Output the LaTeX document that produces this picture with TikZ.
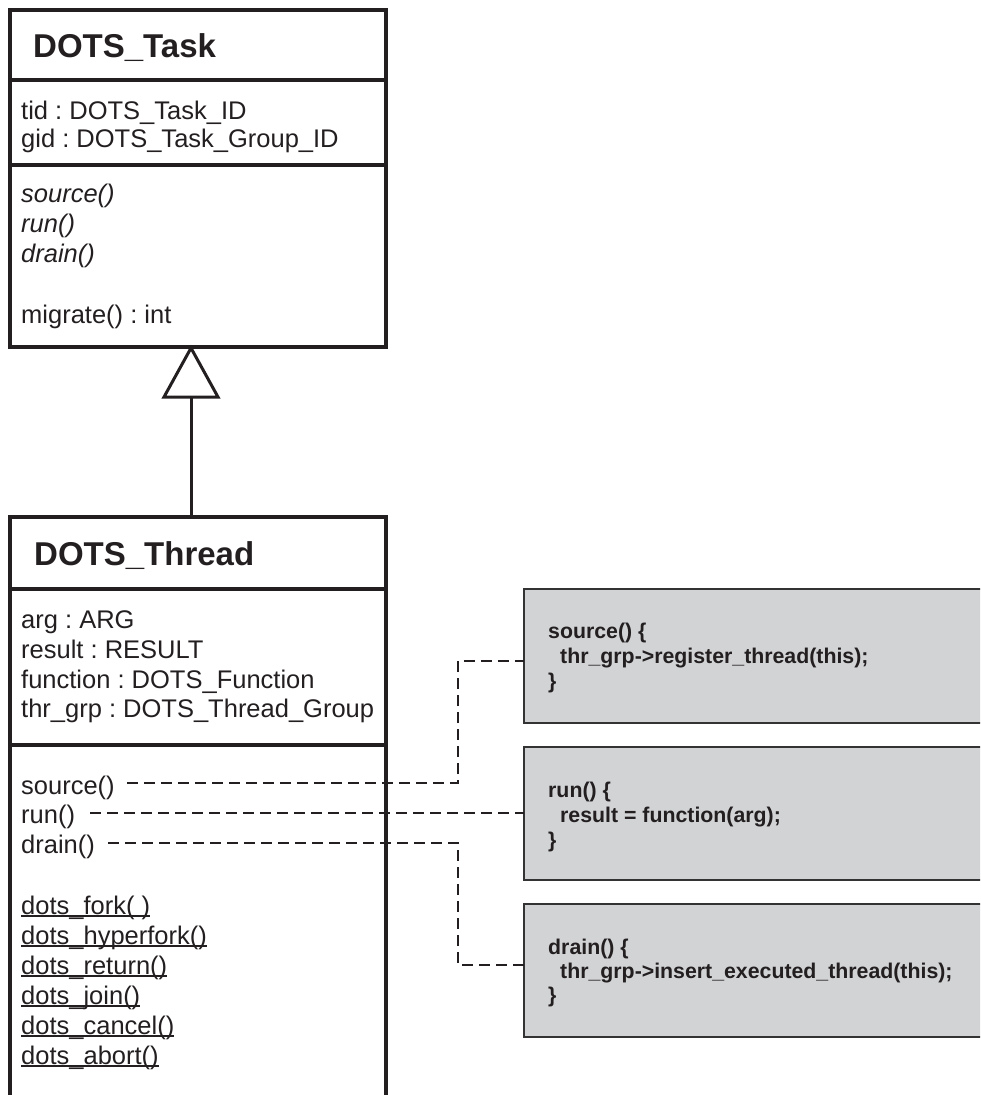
\documentclass[tikz,border=0pt]{standalone}
\usepackage{fontspec}
\setmainfont{Liberation Sans}
\usetikzlibrary{calc}
\definecolor{ink}{HTML}{231F20}
\definecolor{notefill}{HTML}{D2D3D5}
\definecolor{noteline}{HTML}{333333}
\frenchspacing
\begin{document}
\begin{tikzpicture}[x=1pt,y=-1pt,
  classbox/.style={draw=ink, line width=4pt, inner sep=0pt, outer sep=0pt},
  divider/.style={draw=ink, line width=3.5pt},
  classtitle/.style={font=\fontsize{33}{36}\selectfont\bfseries, text=ink, inner sep=0pt, anchor=base west},
  member/.style={font=\fontsize{25.5}{29}\selectfont, text=ink, inner sep=0pt, anchor=base west},
  abstractop/.style={member, font=\fontsize{25.5}{29}\selectfont\itshape},
  uline/.style={draw=ink, line width=1.8pt},
  notebox/.style={draw=noteline, fill=notefill, line width=2.5pt, inner sep=0pt, outer sep=0pt,
    anchor=north west, minimum width=470pt},
  codeline/.style={font=\fontsize{21.3}{24}\selectfont\bfseries, text=ink, inner sep=0pt, anchor=base west},
  link/.style={draw=ink, line width=2pt, dash pattern=on 11pt off 6pt},
  inherit/.style={draw=ink, line width=3pt, line join=miter}]
\useasboundingbox (0,0) rectangle (980,1095);
\clip (0,0) rectangle (980,1095);

% ---------- DOTS_Task ----------
\node[classbox, minimum width=376pt, minimum height=337pt, anchor=north west] (task) at (10,10) {};
\draw[divider] (10,80) -- (386,80);
\draw[divider] (10,165) -- (386,165);
\node[classtitle] (tasktitle) at (33,57) {DOTS\_Task};
\node[member] (tid) at (21,119) {tid : DOTS\_Task\_ID};
\node[member] (gid) at (21,147.5) {gid : DOTS\_Task\_Group\_ID};
\node[abstractop] (tsrc) at (21,202) {source()};
\node[abstractop] (trun) at (21,232) {run()};
\node[abstractop] (tdrn) at (21,262) {drain()};
\node[member] (tmig) at (21,323) {migrate() : int};

% ---------- DOTS_Thread (continues past the bottom edge) ----------
\draw[classbox] (10,1110) |- (386,517) -- (386,1110);
\draw[divider] (10,589) -- (386,589);
\draw[divider] (10,745) -- (386,745);
\node[classtitle] (threadtitle) at (34,565) {DOTS\_Thread};
\node[member] (arg) at (21,628) {arg : ARG};
\node[member] (res) at (21,658) {result : RESULT};
\node[member] (fun) at (21,688) {function : DOTS\_Function};
\node[member] (grp) at (21,717) {thr\_grp : DOTS\_Thread\_Group};
\node[member] (msrc) at (21,794) {source()};
\node[member] (mrun) at (21,823) {run()};
\node[member] (mdrn) at (21,853) {drain()};
\foreach \nm/\txt/\yy in {fork/{dots\_fork( )}/914,
                          hyper/{dots\_hyperfork()}/944,
                          ret/{dots\_return()}/974,
                          join/{dots\_join()}/1004,
                          cancel/{dots\_cancel()}/1034,
                          abort/{dots\_abort()}/1064}{
  \node[member] (s\nm) at (21,\yy) {\txt};
  \draw[uline] ($(s\nm.base west)+(0,2)$) -- ($(s\nm.base east)+(0,2)$);
}

% ---------- generalisation ----------
\coordinate (apex) at (191,348);
\coordinate (triL) at (164,397);
\coordinate (triR) at (218,397);
\coordinate (tribase) at (191,397);
\coordinate (threadtop) at (191,517);
\draw[inherit] (threadtop) -- (tribase);
\draw[inherit] (apex) -- (triL) -- (triR) -- cycle;

% ---------- notes ----------
\node[notebox, minimum height=134pt] (nsrc) at (524,589) {};
\node[notebox, minimum height=133pt] (nrun) at (524,747) {};
\node[notebox, minimum height=133pt] (ndrn) at (524,904) {};

\node[codeline] (c11) at (548,638) {source() \{};
\node[codeline] (c12) at (560,663) {thr\_grp->register\_thread(this);};
\node[codeline] (c13) at (548,688) {\}};
\node[codeline] (c21) at (548,797) {run() \{};
\node[codeline] (c22) at (560,822) {result = function(arg);};
\node[codeline] (c23) at (548,847) {\}};
\node[codeline] (c31) at (548,954) {drain() \{};
\node[codeline] (c32) at (560,978) {thr\_grp->insert\_executed\_thread(this);};
\node[codeline] (c33) at (548,1002) {\}};

% ---------- note anchors ----------
\coordinate (srcstart) at ($(msrc.base east)+(12,-11)$);
\coordinate (srcbend) at (458,661);
\coordinate (runstart) at ($(mrun.base east)+(15,-10)$);
\coordinate (drnstart) at ($(mdrn.base east)+(13,-10)$);
\coordinate (drnbend) at (458,965);
\draw[link] (srcstart) -| (srcbend) -- (srcbend -| nsrc.west);
\draw[link] (runstart) -- (runstart -| nrun.west);
\draw[link] (drnstart) -| (drnbend) -- (drnbend -| ndrn.west);
\end{tikzpicture}
\end{document}
